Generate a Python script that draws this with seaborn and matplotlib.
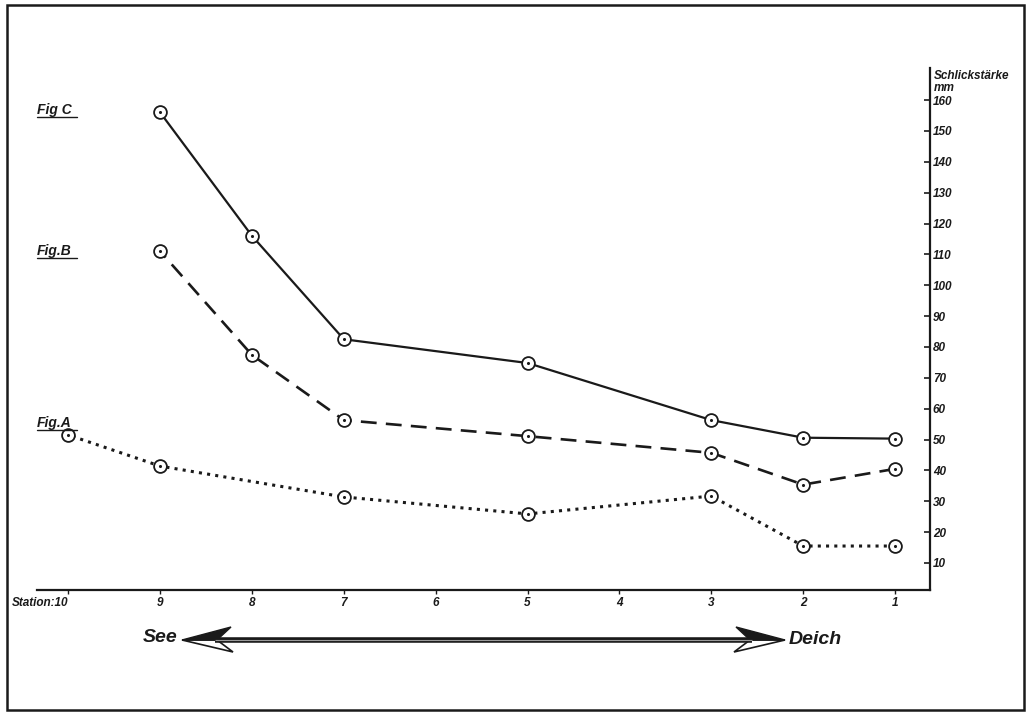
import matplotlib.pyplot as plt
from matplotlib.patches import Rectangle, Polygon
from matplotlib.lines import Line2D
import seaborn as sns
import pandas as pd

# stations along the profile (sea -> dike)
stations = [10, 9, 8, 7, 6, 5, 4, 3, 2, 1]
station_labels = ['Station:10', '9', '8', '7', '6', '5', '4', '3', '2', '1']

fig_c_x = [9, 8, 7, 5, 3, 2, 1]
fig_c_y = [156, 116, 82.5, 74.8, 56.3, 50.6, 50.3]

fig_b_x = [9, 8, 7, 5, 3, 2, 1]
fig_b_y = [111, 77.4, 56.3, 51.1, 45.7, 35.4, 40.5]

fig_a_x = [10, 9, 7, 5, 3, 2, 1]
fig_a_y = [51.5, 41.4, 31.4, 25.9, 31.7, 15.5, 15.5]

y_ticks = list(range(10, 170, 10))

W, H = 1030, 713
INK = '#1a1a1a'

sns.set_theme(style='white')
plt.rcParams['font.family'] = ['Liberation Sans', 'DejaVu Sans']

fig = plt.figure(figsize=(W / 100, H / 100), dpi=100)
ax = fig.add_axes([37 / W, 1 - 590 / H, (930 - 37) / W, (590 - 68) / H])


def px(x, y):
    return x / W, 1 - y / H


series = [
    ('Fig C', fig_c_x, fig_c_y, '-', 1.6),
    ('Fig B', fig_b_x, fig_b_y, (0, (6, 3.5)), 1.9),
    ('Fig A', fig_a_x, fig_a_y, (0, (1, 1.7)), 2.2),
]

for name, xs, ys, ls, lw in series:
    df = pd.DataFrame({'station': xs, 'mm': ys})
    sns.lineplot(data=df, x='station', y='mm', ax=ax, color=INK,
                 linestyle=ls, linewidth=lw, zorder=2)
    sns.scatterplot(data=df, x='station', y='mm', ax=ax, s=85,
                    facecolor='white', edgecolor=INK, linewidth=1.3, zorder=3)
    sns.scatterplot(data=df, x='station', y='mm', ax=ax, s=5,
                    color=INK, linewidth=0, zorder=4)

ax.set_xlim(10.34, 0.62)
ax.set_ylim(1.25, 170.4)

for s in ['left', 'top']:
    ax.spines[s].set_visible(False)
for s in ['right', 'bottom']:
    ax.spines[s].set_color(INK)
    ax.spines[s].set_linewidth(1.6)

ax.yaxis.tick_right()
ax.set_yticks(y_ticks)
ax.set_yticklabels([str(v) for v in y_ticks], fontsize=8.5, fontstyle='italic',
                   fontweight='bold', color=INK)
ax.tick_params(axis='y', direction='in', length=4, width=1.2, pad=2,
               right=True, left=False, colors=INK)

ax.set_xticks(stations)
ax.set_xticklabels(station_labels, fontsize=8.5, fontstyle='italic',
                   fontweight='bold', color=INK)
ax.tick_params(axis='x', direction='out', length=3, width=1.0, pad=2,
               bottom=True, colors=INK)
ax.get_xticklabels()[0].set_horizontalalignment('right')

ax.set_xlabel('')
ax.set_ylabel('')

txt = dict(fontstyle='italic', fontweight='bold', color=INK)

# y axis title
fig.text(*px(934, 76), 'Schlickstärke', fontsize=8.5, ha='left', va='center', **txt)
fig.text(*px(934, 88), 'mm', fontsize=8.5, ha='left', va='center', **txt)

# series labels, underlined
for label, y in [('Fig C', 110), ('Fig.B', 251), ('Fig.A', 423)]:
    fig.text(*px(37, y), label, fontsize=10, ha='left', va='center', **txt)
    x0, y0 = px(37, y + 7)
    x1, _ = px(77, y + 7)
    fig.add_artist(Line2D([x0, x1], [y0, y0], color=INK, lw=1.0))

# direction arrow: double-line shaft with half-filled heads
ay = 640
sx = [px(215, ay)[0], px(752, ay)[0]]
sy = [px(0, ay)[1]] * 2
fig.add_artist(Line2D(sx, sy, color=INK, lw=4.0, solid_capstyle='butt'))
fig.add_artist(Line2D(sx, sy, color='#9a9a9a', lw=0.8, solid_capstyle='butt'))
for tip, barb, notch in [(182, 231, 217), (785, 736, 750)]:
    lower = Polygon([px(tip, ay), px(notch, ay), px(barb + (2 if tip < 400 else -2), ay + 12)],
                    closed=True, facecolor='white', edgecolor=INK, lw=1.2,
                    transform=fig.transFigure)
    upper = Polygon([px(tip, ay), px(barb, ay - 13), px(notch, ay)],
                    closed=True, facecolor=INK, edgecolor=INK, lw=1.0,
                    transform=fig.transFigure)
    fig.add_artist(lower)
    fig.add_artist(upper)
fig.text(*px(178, 638), 'See', fontsize=14, ha='right', va='center', **txt)
fig.text(*px(789, 640), 'Deich', fontsize=14, ha='left', va='center', **txt)

# outer frame
fig.add_artist(Rectangle(px(7, 710), (1024 - 7) / W, (710 - 5) / H,
                         transform=fig.transFigure, fill=False,
                         edgecolor=INK, lw=1.8))

fig.savefig('out.png', dpi=100, facecolor='white')
